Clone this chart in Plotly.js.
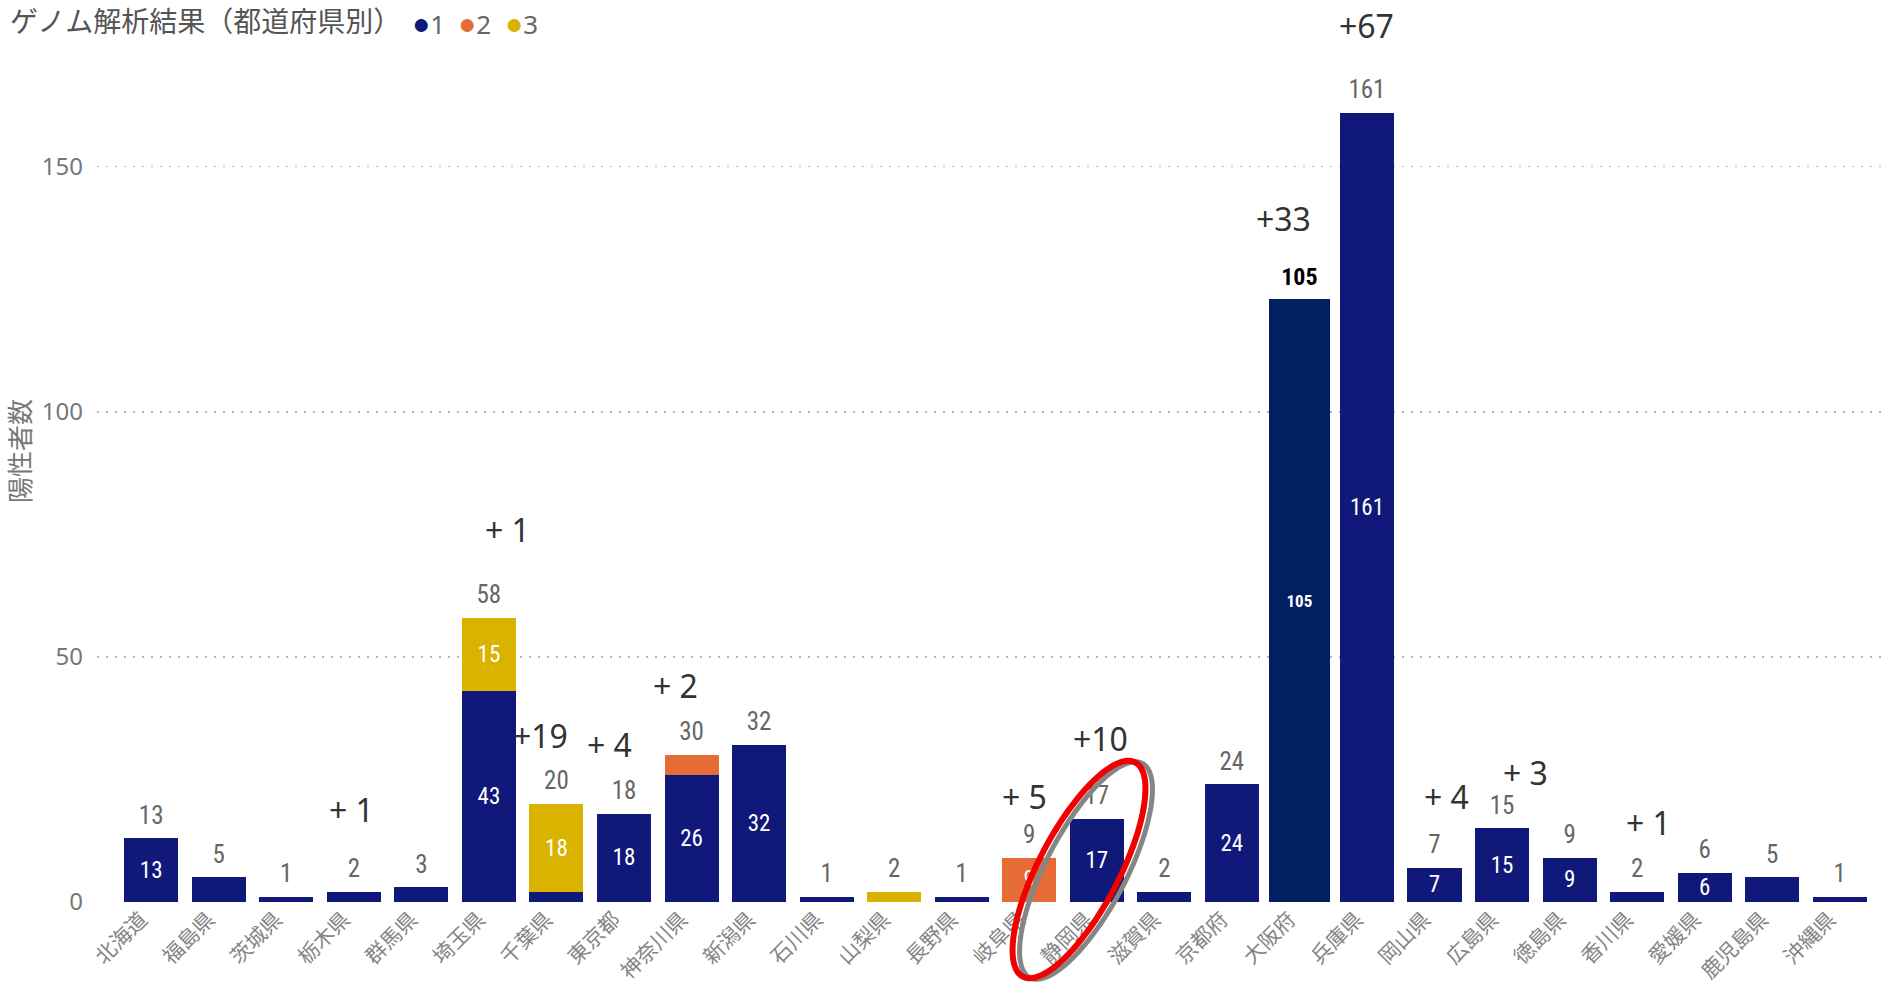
<!DOCTYPE html>
<html><head><meta charset="utf-8">
<script src="https://cdn.plot.ly/plotly-3.0.1.min.js"></script>
<style>html,body{margin:0;padding:0;background:#fff;} #chart{width:1883px;height:986px;}</style>
</head><body><div id="chart"></div>
<script>
// ---- data ----
const categories = ['北海道','福島県','茨城県','栃木県','群馬県','埼玉県','千葉県','東京都','神奈川県','新潟県','石川県','山梨県','長野県','岐阜県','静岡県','滋賀県','京都府','大阪府','兵庫県','岡山県','広島県','徳島県','香川県','愛媛県','鹿児島県','沖縄県'];
const series1 = [13,5,1,2,3,43,2,18,26,32,1,0,1,0,17,2,24,123,161,7,15,9,2,6,5,1];
const series2 = [0,0,0,0,0,0,0,0,4,0,0,0,0,9,0,0,0,0,0,0,0,0,0,0,0,0];
const series3 = [0,0,0,0,0,15,18,0,0,0,0,2,0,0,0,0,0,0,0,0,0,0,0,0,0,0];
const totalLabels = ['13','5','1','2','3','58','20','18','30','32','1','2','1','9','17','2','24','105','161','7','15','9','2','6','5','1'];
const inner1 = ['13','','','','','43','','18','26','32','','','','','17','','24','105','161','7','15','9','','6','',''];
const inner2 = ['','','','','','','','','','','','','','9','','','','','','','','','','','',''];
const inner3 = ['','','','','','15','18','','','','','','','','','','','','','','','','','','',''];
const increaseCats = ['栃木県','埼玉県','千葉県','東京都','神奈川県','岐阜県','静岡県','大阪府','兵庫県','岡山県','広島県','香川県'];
const increaseText = ['+ 1','+ 1','+19','+ 4','+ 2','+ 5','+10','+33','+67','+ 4','+ 3','+ 1'];
const legendNames = ['1','2','3'];
const highlightCat = '大阪府';

// ---- placement of the increase notes (layout, not data) ----
const increaseDx = [-0.03,0.27,-0.23,-0.21,-0.23,-0.07,0.06,-0.23,-0.01,0.18,0.34,0.17];
const increaseY  = [18.8,76,33.9,32.1,44.1,21.6,33.3,139.5,178.7,21.6,26.5,16.2];

// ---- style ----
const C1 = '#10197a', C2 = '#e66c37', C3 = '#d9b300', CH = '#022060';
const COLORS = [C1, C2, C3];
const NUM = "'Liberation Sans Narrow','Roboto Condensed','DejaVu Sans Condensed','Noto Sans',sans-serif";
const JP = "'Noto Sans CJK JP','Noto Sans',sans-serif";
const W = 1883, H = 986, M = {l:97, r:0, t:0, b:84, pad:0};
const PW = W - M.l - M.r, PH = H - M.t - M.b;
const YMAX = 184.0;

const hi = categories.indexOf(highlightCat);
const mask = (arr, keep) => arr.map((v,i) => (keep ? i===hi : i!==hi) ? v : null);
const maskT = (arr, keep) => arr.map((v,i) => (keep ? i===hi : i!==hi) ? v : '');

const barCommon = {type:'bar', x:categories, textposition:'inside', insidetextanchor:'middle',
  textangle:0, constraintext:'none', hoverinfo:'skip', showlegend:false, width:0.8, cliponaxis:false};

const traces = [
  Object.assign({}, barCommon, {name:legendNames[0], y:mask(series1,false), text:maskT(inner1,false), marker:{color:C1},
    textfont:{family:NUM, size:23, color:'#fff'}}),
  Object.assign({}, barCommon, {name:legendNames[1], y:series2, text:inner2, marker:{color:C2},
    textfont:{family:NUM, size:23, color:'#fff'}}),
  Object.assign({}, barCommon, {name:legendNames[2], y:series3, text:inner3, marker:{color:C3},
    textfont:{family:NUM, size:23, color:'#fff'}}),
  Object.assign({}, barCommon, {name:legendNames[0], y:mask(series1,true), text:maskT(inner1,true).map(t=>t?'<b>'+t+'</b>':''),
    marker:{color:CH}, width:0.905, textfont:{family:NUM, size:17, color:'#fff'}}),
];
const tops = categories.map((c,i)=>series1[i]+series2[i]+series3[i]);
traces.push({type:'scatter', mode:'markers+text', x:categories, y:tops,
  text: totalLabels.map((t,i)=> i===hi ? '<b>'+t+'</b>' : t),
  textposition:'top center', marker:{size:12, opacity:0}, hoverinfo:'skip', showlegend:false, cliponaxis:false,
  textfont:{family:NUM, size: categories.map((c,i)=> i===hi ? 24 : 25), color: categories.map((c,i)=> i===hi ? '#000' : '#666')}});

// ---- pixel -> paper helpers ----
const pxX = x => (x - M.l)/PW;
const pxY = y => (H - M.b - y)/PH;

// ---- highlight ellipse (decoration) ----
function ellipsePath(cx, cy, a, b, phiDeg, dx, dy){
  const phi = phiDeg*Math.PI/180, pts = [];
  for (let k=0;k<=96;k++){
    const t = 2*Math.PI*k/96;
    const u = a*Math.cos(t), v = b*Math.sin(t);
    const x = cx + dx + u*Math.sin(phi) + v*Math.cos(phi);
    const y = cy + dy - u*Math.cos(phi) + v*Math.sin(phi);
    pts.push(pxX(x).toFixed(5)+','+pxY(y).toFixed(5));
  }
  return 'M'+pts.join('L')+'Z';
}
const shapes = [
  {type:'path', xref:'paper', yref:'paper', layer:'above', path:ellipsePath(1079,869.5,121,40,27.7,7,1), line:{color:'#858585', width:5}},
  {type:'path', xref:'paper', yref:'paper', layer:'above', path:ellipsePath(1079,869.5,121,40,27.7,0,0), line:{color:'#f00000', width:6}},
];

const annotations = increaseCats.map((c,i)=>({x:categories.indexOf(c)+increaseDx[i], y:increaseY[i], xref:'x', yref:'y',
  text:increaseText[i], showarrow:false, xanchor:'center', yanchor:'middle',
  font:{family:"'Noto Sans',sans-serif", size:32, color:'#333'}}));

// legend drawn as text entries next to the title
const legendX = [410, 456, 503];
legendNames.forEach((n,k)=>annotations.push({xref:'paper', yref:'paper', x:pxX(legendX[k]), y:pxY(22), xanchor:'left', yanchor:'middle',
  showarrow:false, text:'<span style="color:'+COLORS[k]+';font-size:30px">●</span>'+n,
  font:{family:"'Noto Sans',sans-serif", size:26, color:'#666'}}));

const layout = {
  width:W, height:H, margin:M, paper_bgcolor:'#fff', plot_bgcolor:'#fff', barmode:'stack', showlegend:false,
  title:{text:'ゲノム解析結果（都道府県別）', x:10/W, xref:'container', xanchor:'left', y:1-22/H, yref:'container', yanchor:'middle',
    font:{family:JP, size:28, color:'#555'}},
  xaxis:{type:'category', range:[-0.802, 25.64], tickangle:-45, automargin:false, showgrid:false, showline:false,
    zeroline:false, ticks:'', ticklabelshift:-10, tickfont:{family:JP, size:21, color:'#858585'}, fixedrange:true},
  yaxis:{range:[0,YMAX], tickvals:[0,50,100,150], showgrid:true, griddash:'2px,7px', gridcolor:'#b8b8b8', gridwidth:1.5,
    zeroline:false, showline:false, ticks:'', ticklabelstandoff:13, automargin:true,
    tickfont:{family:"'Noto Sans',sans-serif", size:24, color:'#777'},
    title:{text:'陽性者数', standoff:10, font:{family:JP, size:26, color:'#777'}}, fixedrange:true},
  shapes, annotations
};
Plotly.newPlot('chart', traces, layout, {displayModeBar:false, staticPlot:true});
</script></body></html>
